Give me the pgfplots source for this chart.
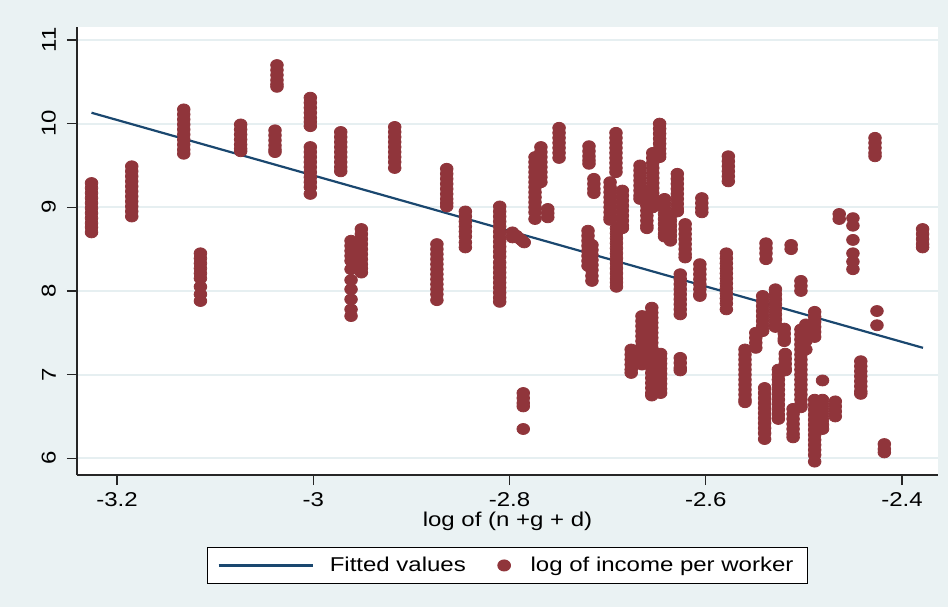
\documentclass[border=0pt]{standalone}
\usepackage{pgfplots}
\pgfplotsset{compat=1.18}
\usepackage{fontspec}
\setmainfont{Liberation Sans}[FakeStretch=1.2]
\definecolor{bg}{HTML}{EAF2F3}
\definecolor{mk}{HTML}{90353B}
\definecolor{ln}{HTML}{1A476F}
\definecolor{grd}{HTML}{E6EFF1}
\pgfplotsset{
  myline legend/.style={legend image code/.code={\draw[##1] (0pt,0pt) -- (47pt,0pt); \path (53pt,0pt);}},
  mymark legend/.style={legend image code/.code={\draw[##1] plot coordinates {(4pt,0pt)}; \path (15pt,0pt);}},
}
\begin{document}
\begin{tikzpicture}
\fill[bg] (-38.5pt,-66pt) rectangle (435.5pt,237.5pt);
\begin{axis}[
  at={(0,0)}, anchor=south west,
  scale only axis, width=430.5pt, height=224pt,
  xmin=-3.2408, xmax=-2.3633, ymin=5.8, ymax=11.155,
  axis background/.style={fill=white},
  axis x line*=bottom, axis y line*=left,
  axis line style={-, line width=0.6pt, black!85},
  xtick={-3.2,-3,-2.8,-2.6,-2.4},
  xticklabels={-3.2,-3,-2.8,-2.6,-2.4},
  ytick={6,7,8,9,10,11},
  yticklabels={6,7,8,9,10,11},
  tick align=outside, major tick length=5pt,
  tick style={black!85, line width=0.6pt},
  ymajorgrids, grid style={grd, line width=1pt},
  ticklabel style={font=\fontsize{10}{12}\selectfont},
  yticklabel style={xshift=-2pt, rotate=90, anchor=south},
  xlabel={log of (n +g + d)},
  xlabel style={at={(axis description cs:0.5,0)}, anchor=north, yshift=-15pt, font=\fontsize{10}{12}\selectfont},
  legend style={at={(axis description cs:0.5,0)}, anchor=north, yshift=-36pt,
    draw=black, line width=0.5pt, fill=white, inner xsep=5pt, inner ysep=2.6pt,
    font=\fontsize{10}{12}\selectfont,
    /tikz/every even column/.append style={column sep=14pt}},
  legend columns=2,
  clip=true,
]
\addplot[ln, line width=1.1pt, myline legend] coordinates {(-3.226,10.13) (-2.3786,7.32)};
\addlegendentry{Fitted values}
\addplot[only marks, mark=*, mark size=2.75pt, color=mk, mark options={fill=mk, draw=mk, xscale=1.15},
  mymark legend] table {
x y
-3.226 9.29
-3.226 9.23
-3.226 9.17
-3.226 9.11
-3.226 9.05
-3.226 8.99
-3.226 8.93
-3.226 8.87
-3.226 8.81
-3.226 8.76
-3.226 8.70
-3.185 9.49
-3.185 9.43
-3.185 9.37
-3.185 9.31
-3.185 9.25
-3.185 9.19
-3.185 9.13
-3.185 9.07
-3.185 9.01
-3.185 8.95
-3.185 8.89
-3.132 10.17
-3.132 10.11
-3.132 10.05
-3.132 9.99
-3.132 9.93
-3.132 9.87
-3.132 9.81
-3.132 9.75
-3.132 9.69
-3.132 9.64
-3.115 8.45
-3.115 8.39
-3.115 8.33
-3.115 8.27
-3.115 8.21
-3.115 8.15
-3.115 8.05
-3.115 7.96
-3.115 7.88
-3.074 9.99
-3.074 9.93
-3.074 9.87
-3.074 9.81
-3.074 9.75
-3.074 9.70
-3.074 9.67
-3.037 10.70
-3.037 10.64
-3.037 10.58
-3.037 10.52
-3.037 10.47
-3.037 10.44
-3.039 9.92
-3.039 9.86
-3.039 9.80
-3.039 9.74
-3.039 9.69
-3.039 9.66
-3.003 10.31
-3.003 10.25
-3.003 10.19
-3.003 10.13
-3.003 10.07
-3.003 10.02
-3.003 9.97
-3.003 9.72
-3.003 9.66
-3.003 9.60
-3.003 9.54
-3.003 9.48
-3.003 9.42
-3.003 9.36
-3.003 9.30
-3.003 9.24
-3.003 9.16
-2.972 9.90
-2.972 9.84
-2.972 9.78
-2.972 9.72
-2.972 9.66
-2.972 9.60
-2.972 9.54
-2.972 9.48
-2.972 9.43
-2.9615 8.60
-2.9615 8.54
-2.9615 8.48
-2.9615 8.42
-2.9615 8.36
-2.9615 8.26
-2.9615 8.13
-2.9615 8.02
-2.9615 7.90
-2.9615 7.78
-2.9615 7.70
-2.951 8.74
-2.951 8.68
-2.951 8.62
-2.951 8.56
-2.951 8.50
-2.951 8.44
-2.951 8.38
-2.951 8.32
-2.951 8.27
-2.951 8.22
-2.917 9.96
-2.917 9.90
-2.917 9.84
-2.917 9.78
-2.917 9.72
-2.917 9.66
-2.917 9.60
-2.917 9.54
-2.917 9.47
-2.864 9.46
-2.864 9.40
-2.864 9.34
-2.864 9.28
-2.864 9.22
-2.864 9.16
-2.864 9.10
-2.864 9.05
-2.864 9.01
-2.874 8.56
-2.874 8.50
-2.874 8.44
-2.874 8.38
-2.874 8.32
-2.874 8.26
-2.874 8.20
-2.874 8.14
-2.874 8.08
-2.874 8.02
-2.874 7.96
-2.874 7.89
-2.845 8.95
-2.845 8.89
-2.845 8.83
-2.845 8.77
-2.845 8.71
-2.845 8.65
-2.845 8.58
-2.845 8.52
-2.810 9.01
-2.810 8.95
-2.810 8.89
-2.810 8.83
-2.810 8.77
-2.810 8.71
-2.810 8.65
-2.810 8.59
-2.810 8.53
-2.810 8.47
-2.810 8.41
-2.810 8.34
-2.810 8.28
-2.810 8.22
-2.810 8.16
-2.810 8.10
-2.810 8.04
-2.810 7.98
-2.810 7.92
-2.810 7.87
-2.797 8.70
-2.797 8.64
-2.793 8.66
-2.789 8.62
-2.787 8.60
-2.785 8.58
-2.786 6.78
-2.786 6.72
-2.786 6.66
-2.786 6.62
-2.786 6.35
-2.774 9.60
-2.774 9.54
-2.774 9.48
-2.774 9.42
-2.774 9.36
-2.774 9.30
-2.774 9.24
-2.774 9.18
-2.774 9.12
-2.774 9.06
-2.774 9.00
-2.774 8.94
-2.774 8.86
-2.768 9.72
-2.768 9.66
-2.768 9.60
-2.768 9.54
-2.768 9.48
-2.768 9.42
-2.768 9.36
-2.768 9.30
-2.761 8.98
-2.761 8.93
-2.761 8.88
-2.7495 9.95
-2.7495 9.89
-2.7495 9.83
-2.7495 9.77
-2.7495 9.71
-2.7495 9.65
-2.7495 9.59
-2.719 9.73
-2.719 9.67
-2.719 9.61
-2.719 9.56
-2.719 9.52
-2.714 9.34
-2.714 9.28
-2.714 9.22
-2.714 9.17
-2.720 8.72
-2.720 8.66
-2.720 8.60
-2.720 8.54
-2.720 8.48
-2.720 8.42
-2.720 8.36
-2.720 8.30
-2.716 8.55
-2.716 8.49
-2.716 8.43
-2.716 8.37
-2.716 8.31
-2.716 8.25
-2.716 8.18
-2.716 8.12
-2.6915 9.89
-2.6915 9.83
-2.6915 9.77
-2.6915 9.71
-2.6915 9.65
-2.6915 9.59
-2.6915 9.53
-2.6915 9.47
-2.6915 9.42
-2.6975 9.30
-2.6975 9.24
-2.6975 9.18
-2.6975 9.12
-2.6975 9.06
-2.6975 9.00
-2.6975 8.94
-2.6975 8.88
-2.6975 8.85
-2.685 9.20
-2.685 9.14
-2.685 9.08
-2.685 9.02
-2.685 8.96
-2.685 8.90
-2.685 8.84
-2.685 8.78
-2.685 8.75
-2.691 8.75
-2.691 8.69
-2.691 8.63
-2.691 8.57
-2.691 8.51
-2.691 8.45
-2.691 8.39
-2.691 8.33
-2.691 8.27
-2.691 8.21
-2.691 8.15
-2.691 8.10
-2.691 8.05
-2.667 9.50
-2.667 9.44
-2.667 9.38
-2.667 9.32
-2.667 9.26
-2.667 9.20
-2.667 9.14
-2.667 9.10
-2.660 9.20
-2.660 9.14
-2.660 9.08
-2.660 9.02
-2.660 8.96
-2.660 8.90
-2.660 8.84
-2.660 8.78
-2.660 8.75
-2.654 9.65
-2.654 9.59
-2.654 9.53
-2.654 9.47
-2.654 9.41
-2.654 9.35
-2.654 9.29
-2.654 9.23
-2.654 9.17
-2.654 9.11
-2.654 9.05
-2.654 9.00
-2.647 10.00
-2.647 9.94
-2.647 9.88
-2.647 9.82
-2.647 9.76
-2.647 9.70
-2.647 9.64
-2.647 9.60
-2.642 9.10
-2.642 9.04
-2.642 8.98
-2.642 8.92
-2.642 8.86
-2.642 8.80
-2.642 8.74
-2.642 8.68
-2.642 8.65
-2.636 8.90
-2.636 8.84
-2.636 8.78
-2.636 8.72
-2.636 8.66
-2.636 8.60
-2.629 9.40
-2.629 9.34
-2.629 9.28
-2.629 9.22
-2.629 9.16
-2.629 9.10
-2.629 9.04
-2.629 8.98
-2.629 8.95
-2.621 8.80
-2.621 8.74
-2.621 8.68
-2.621 8.62
-2.621 8.56
-2.621 8.50
-2.621 8.44
-2.621 8.40
-2.676 7.30
-2.676 7.24
-2.676 7.18
-2.676 7.12
-2.676 7.06
-2.676 7.02
-2.665 7.70
-2.665 7.64
-2.665 7.58
-2.665 7.52
-2.665 7.46
-2.665 7.40
-2.665 7.34
-2.665 7.28
-2.665 7.22
-2.665 7.16
-2.665 7.12
-2.655 7.80
-2.655 7.74
-2.655 7.68
-2.655 7.62
-2.655 7.56
-2.655 7.50
-2.655 7.44
-2.655 7.38
-2.655 7.32
-2.655 7.26
-2.655 7.20
-2.655 7.14
-2.655 7.08
-2.655 7.02
-2.655 6.96
-2.655 6.90
-2.655 6.84
-2.655 6.78
-2.655 6.75
-2.646 7.25
-2.646 7.19
-2.646 7.13
-2.646 7.07
-2.646 7.01
-2.646 6.95
-2.646 6.89
-2.646 6.83
-2.646 6.78
-2.626 7.20
-2.626 7.14
-2.626 7.08
-2.626 7.05
-2.626 8.20
-2.626 8.14
-2.626 8.08
-2.626 8.02
-2.626 7.96
-2.626 7.90
-2.626 7.84
-2.626 7.78
-2.626 7.72
-2.604 9.11
-2.604 9.05
-2.604 8.99
-2.604 8.94
-2.606 8.32
-2.606 8.26
-2.606 8.20
-2.606 8.14
-2.606 8.08
-2.606 8.02
-2.606 7.96
-2.606 7.94
-2.577 9.61
-2.577 9.55
-2.577 9.49
-2.577 9.43
-2.577 9.37
-2.577 9.31
-2.579 8.45
-2.579 8.39
-2.579 8.33
-2.579 8.27
-2.579 8.21
-2.579 8.15
-2.579 8.09
-2.579 8.03
-2.579 7.97
-2.579 7.91
-2.579 7.85
-2.579 7.78
-2.5386 8.57
-2.5386 8.51
-2.5386 8.45
-2.5386 8.38
-2.513 8.55
-2.513 8.50
-2.503 8.12
-2.503 8.06
-2.503 8.00
-2.560 7.30
-2.560 7.24
-2.560 7.18
-2.560 7.12
-2.560 7.06
-2.560 7.00
-2.560 6.94
-2.560 6.88
-2.560 6.82
-2.560 6.76
-2.560 6.70
-2.560 6.67
-2.549 7.50
-2.549 7.44
-2.549 7.38
-2.549 7.32
-2.542 7.94
-2.542 7.88
-2.542 7.82
-2.542 7.76
-2.542 7.70
-2.542 7.64
-2.542 7.58
-2.542 7.52
-2.540 6.84
-2.540 6.78
-2.540 6.72
-2.540 6.66
-2.540 6.60
-2.540 6.54
-2.540 6.48
-2.540 6.42
-2.540 6.36
-2.540 6.30
-2.540 6.23
-2.529 8.02
-2.529 7.96
-2.529 7.90
-2.529 7.84
-2.529 7.78
-2.529 7.72
-2.529 7.66
-2.529 7.60
-2.529 7.57
-2.520 7.55
-2.520 7.49
-2.520 7.43
-2.520 7.40
-2.526 7.06
-2.526 7.00
-2.526 6.94
-2.526 6.88
-2.526 6.82
-2.526 6.76
-2.526 6.70
-2.526 6.64
-2.526 6.58
-2.526 6.52
-2.526 6.47
-2.519 7.25
-2.519 7.19
-2.519 7.13
-2.519 7.07
-2.519 7.05
-2.511 6.59
-2.511 6.53
-2.511 6.47
-2.511 6.41
-2.511 6.35
-2.511 6.29
-2.511 6.25
-2.503 7.54
-2.503 7.48
-2.503 7.42
-2.503 7.36
-2.503 7.30
-2.503 7.24
-2.503 7.18
-2.503 7.12
-2.503 7.06
-2.503 7.00
-2.503 6.94
-2.503 6.88
-2.503 6.82
-2.503 6.76
-2.503 6.70
-2.503 6.64
-2.503 6.61
-2.498 7.60
-2.498 7.50
-2.498 7.40
-2.498 7.30
-2.489 7.75
-2.489 7.69
-2.489 7.63
-2.489 7.57
-2.489 7.51
-2.489 7.45
-2.489 6.70
-2.489 6.64
-2.489 6.58
-2.489 6.52
-2.489 6.46
-2.489 6.40
-2.489 6.34
-2.489 6.28
-2.489 6.22
-2.489 6.16
-2.489 6.10
-2.489 6.04
-2.489 5.96
-2.481 6.93
-2.481 6.70
-2.481 6.64
-2.481 6.58
-2.481 6.52
-2.481 6.46
-2.481 6.40
-2.481 6.35
-2.468 6.68
-2.468 6.62
-2.468 6.56
-2.468 6.50
-2.464 8.92
-2.464 8.86
-2.450 8.87
-2.450 8.78
-2.450 8.61
-2.450 8.45
-2.450 8.35
-2.450 8.26
-2.442 7.16
-2.442 7.10
-2.442 7.04
-2.442 6.98
-2.442 6.92
-2.442 6.86
-2.442 6.80
-2.442 6.77
-2.4275 9.83
-2.4275 9.77
-2.4275 9.71
-2.4275 9.65
-2.4275 9.61
-2.4255 7.76
-2.4255 7.59
-2.418 6.17
-2.418 6.11
-2.418 6.07
-2.379 8.74
-2.379 8.68
-2.379 8.62
-2.379 8.56
-2.379 8.52
};
\addlegendentry{log of income per worker}
\end{axis}
\end{tikzpicture}
\end{document}
